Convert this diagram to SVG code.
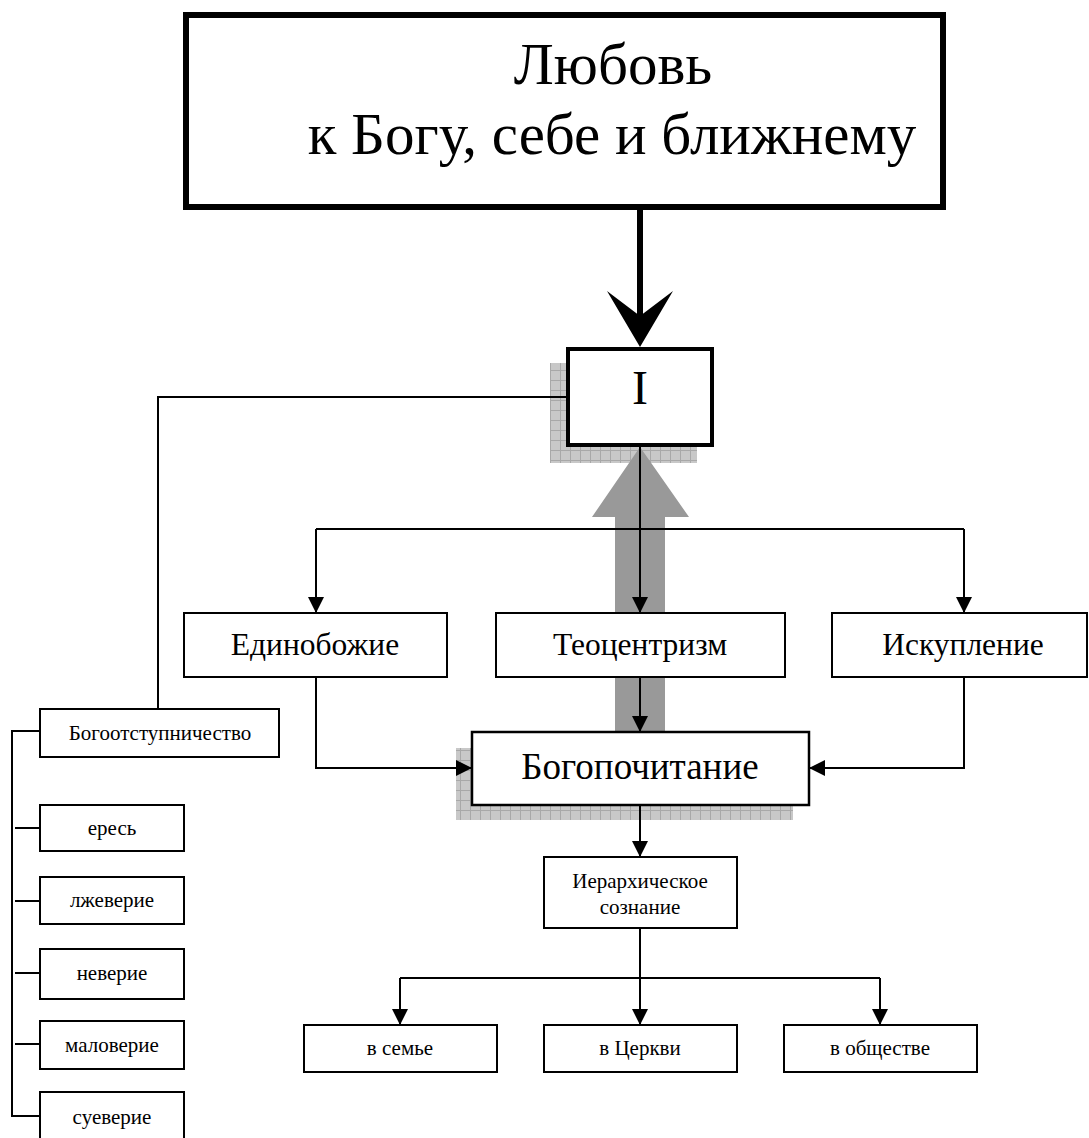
<svg xmlns="http://www.w3.org/2000/svg" width="1089" height="1138" viewBox="0 0 1089 1138">
<style>
  text { font-family: "Liberation Serif", "DejaVu Serif", serif; fill: #000; text-anchor: middle; }
  .box { fill: #fff; stroke: #000; stroke-width: 2; }
  .ln { fill: none; stroke: #000; stroke-width: 2; }
  .arr { fill: none; stroke: #000; stroke-width: 2; marker-end: url(#ah); }
  .big { font-size: 59px; }
  .mid { font-size: 31.5px; }
  .sm { font-size: 21px; }
</style>
<defs>
  <marker id="ah" viewBox="0 0 16 16" refX="16" refY="8" markerWidth="16" markerHeight="16" markerUnits="userSpaceOnUse" orient="auto">
    <path d="M0,0 L16,8 L0,16 z" fill="#000"/>
  </marker>
  <pattern id="grid" width="10" height="10" patternUnits="userSpaceOnUse">
    <rect width="10" height="10" fill="#c8c8c8"/>
    <path d="M0,0.5H10M0.5,0V10" stroke="#a8a8a8" stroke-width="1"/>
  </pattern>
</defs>

<g id="decor">
  <rect x="550" y="363" width="147" height="100" fill="url(#grid)"/>
  <rect x="456" y="748" width="337" height="72" fill="url(#grid)"/>
  <polygon points="640,447 592,517 615,517 615,732 665,732 665,517 689,517" fill="#999"/>
</g>

<g id="connectors">
  <line x1="640" y1="210" x2="640" y2="320" stroke="#000" stroke-width="6"/>
  <polygon points="640,347 607,291 640,316 673,291" fill="#000"/>
  <path class="arr" d="M640,447 V613"/>
  <path class="ln" d="M316,529 H964"/>
  <path class="arr" d="M316,529 V613"/>
  <path class="arr" d="M964,529 V613"/>
  <path class="arr" d="M640,677 V732"/>
  <path class="arr" d="M316,677 V768 H472"/>
  <path class="arr" d="M964,677 V768 H809"/>
  <path class="arr" d="M640,805 V857"/>
  <path class="ln" d="M640,928 V978"/>
  <path class="ln" d="M400,978 H880"/>
  <path class="arr" d="M400,978 V1025"/>
  <path class="arr" d="M640,978 V1025"/>
  <path class="arr" d="M880,978 V1025"/>
  <path class="ln" d="M566,397 H158 V709"/>
  <path class="ln" d="M12,731 V1116"/>
  <path class="ln" d="M11,731 H42"/>
  <path class="ln" d="M15,828 H40"/>
  <path class="ln" d="M15,901 H40"/>
  <path class="ln" d="M15,973 H40"/>
  <path class="ln" d="M15,1044 H40"/>
  <path class="ln" d="M11,1116 H42"/>
</g>

<g id="node-top">
  <rect x="186" y="15" width="757" height="192" fill="#fff" stroke="#000" stroke-width="6"/>
  <text class="big" x="613" y="84">Любовь</text>
  <text class="big" x="612" y="154">к Богу, себе и ближнему</text>
</g>
<g id="node-I">
  <rect x="568" y="349" width="144" height="96" fill="#fff" stroke="#000" stroke-width="4"/>
  <text x="640" y="404" font-size="48">I</text>
</g>
<g id="node-edinobozhie">
  <rect class="box" x="184" y="613" width="263" height="64"/>
  <text class="mid" x="315" y="655">Единобожие</text>
</g>
<g id="node-teocentrizm">
  <rect class="box" x="496" y="613" width="289" height="64"/>
  <text class="mid" x="640" y="655">Теоцентризм</text>
</g>
<g id="node-iskuplenie">
  <rect class="box" x="832" y="613" width="255" height="64"/>
  <text class="mid" x="963" y="655">Искупление</text>
</g>
<g id="node-bogopochitanie">
  <rect x="472" y="732" width="337" height="73" fill="#fff" stroke="#000" stroke-width="2.5"/>
  <text x="640" y="779" font-size="37">Богопочитание</text>
</g>
<g id="node-ierarh">
  <rect class="box" x="544" y="857" width="193" height="71"/>
  <text class="sm" x="640" y="888">Иерархическое</text>
  <text class="sm" x="640" y="914">сознание</text>
</g>
<g id="node-semya">
  <rect class="box" x="304" y="1025" width="193" height="47"/>
  <text class="sm" x="400" y="1055">в семье</text>
</g>
<g id="node-tserkov">
  <rect class="box" x="544" y="1025" width="193" height="47"/>
  <text class="sm" x="640" y="1055">в Церкви</text>
</g>
<g id="node-obshchestvo">
  <rect class="box" x="784" y="1025" width="193" height="47"/>
  <text class="sm" x="880" y="1055">в обществе</text>
</g>
<g id="node-bogootstupnichestvo">
  <rect class="box" x="40" y="709" width="239" height="48"/>
  <text class="sm" x="160" y="740">Богоотступничество</text>
</g>
<g id="node-eres">
  <rect class="box" x="40" y="805" width="144" height="46"/>
  <text class="sm" x="112" y="835">ересь</text>
</g>
<g id="node-lzheverie">
  <rect class="box" x="40" y="877" width="144" height="47"/>
  <text class="sm" x="112" y="907">лжеверие</text>
</g>
<g id="node-neverie">
  <rect class="box" x="40" y="949" width="144" height="50"/>
  <text class="sm" x="112" y="980">неверие</text>
</g>
<g id="node-maloverie">
  <rect class="box" x="40" y="1021" width="144" height="48"/>
  <text class="sm" x="112" y="1052">маловерие</text>
</g>
<g id="node-sueverie">
  <rect class="box" x="40" y="1092" width="144" height="60"/>
  <text class="sm" x="112" y="1124">суеверие</text>
</g>
</svg>
